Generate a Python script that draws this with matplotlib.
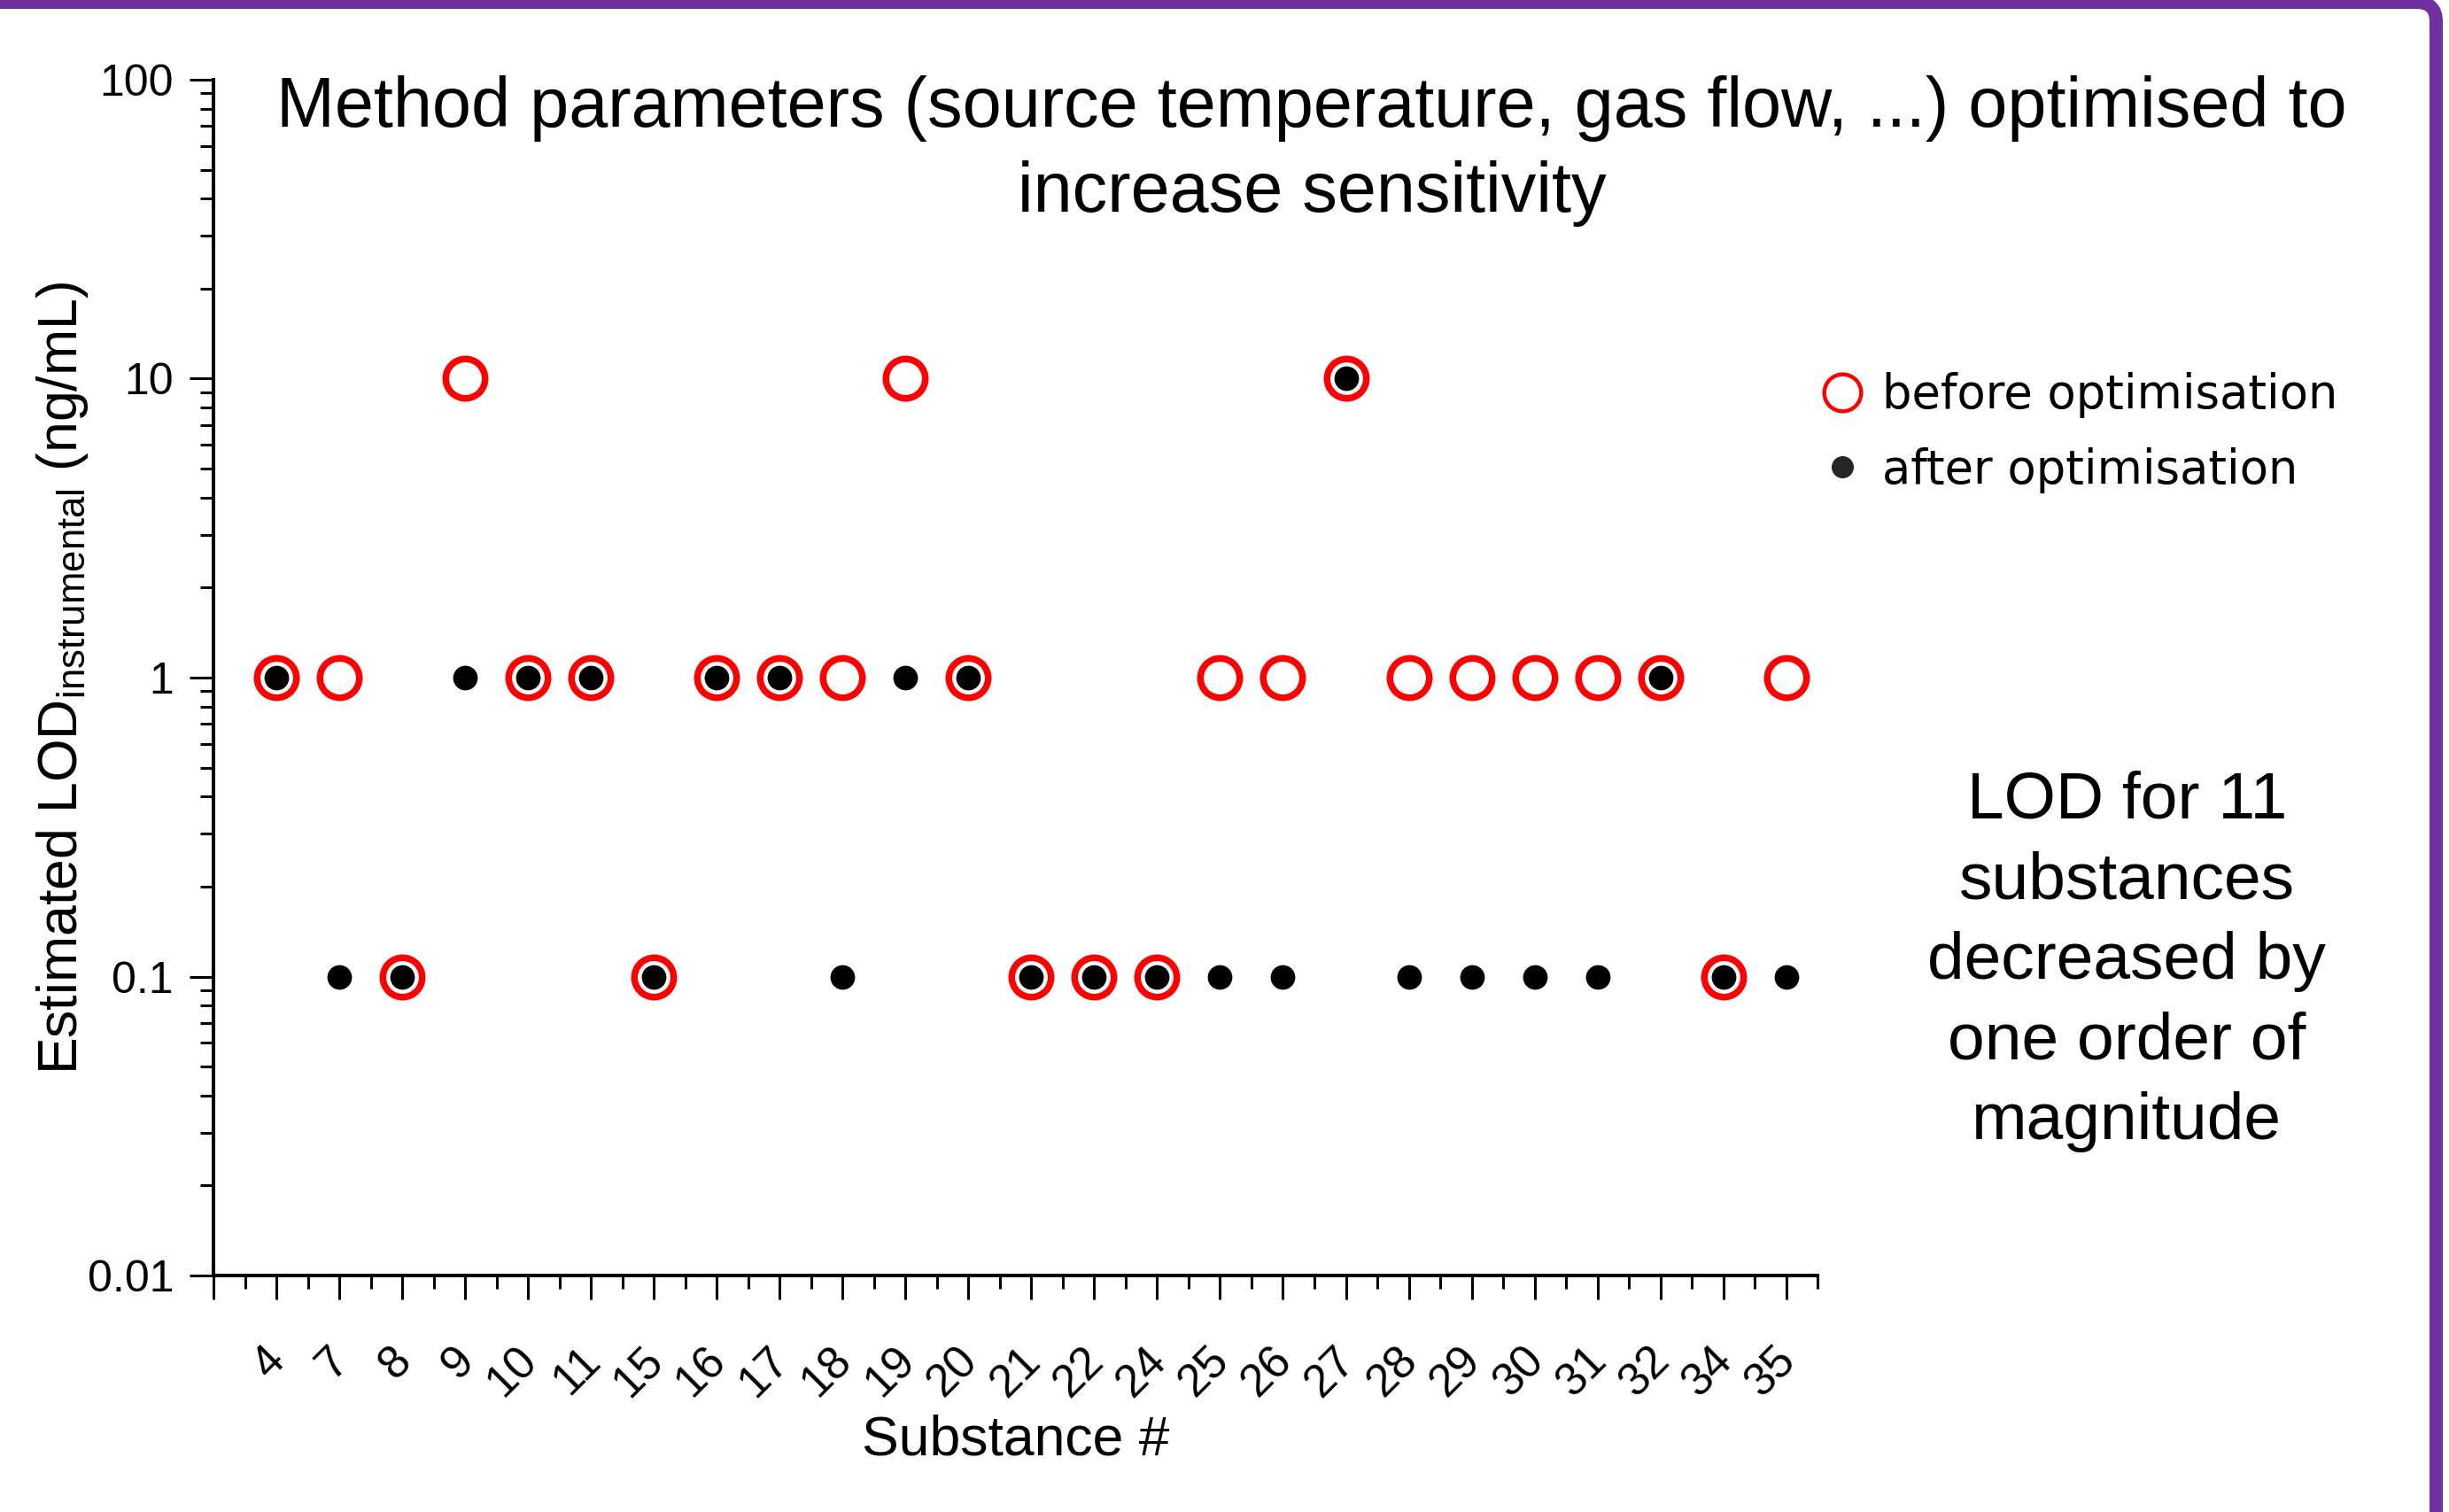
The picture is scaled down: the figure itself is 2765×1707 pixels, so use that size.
#!/usr/bin/env python3

import numpy as np
import matplotlib
matplotlib.use("Agg")
import matplotlib.pyplot as plt
from matplotlib.lines import Line2D
from matplotlib.patches import FancyBboxPatch
from matplotlib.ticker import FixedLocator, LogLocator, NullFormatter
import matplotlib.transforms as mtransforms

# substance numbers on the x axis
substances = ["4", "7", "8", "9", "10", "11", "15", "16", "17", "18", "19", "20", "21",
              "22", "24", "25", "26", "27", "28", "29", "30", "31", "32", "34", "35"]

# estimated LOD (ng/mL)
lod_before = [1, 1, 0.1, 10, 1, 1, 0.1, 1, 1, 1, 10, 1, 0.1,
              0.1, 0.1, 1, 1, 10, 1, 1, 1, 1, 1, 0.1, 1]
lod_after = [1, 0.1, 0.1, 1, 1, 1, 0.1, 1, 1, 0.1, 1, 1, 0.1,
             0.1, 0.1, 0.1, 0.1, 10, 0.1, 0.1, 0.1, 0.1, 1, 0.1, 0.1]

ytick_values = [0.01, 0.1, 1, 10, 100]
ytick_labels = ["0.01", "0.1", "1", "10", "100"]

title = "Method parameters (source temperature, gas flow, ...) optimised to\nincrease sensitivity"
note = "LOD for 11\nsubstances\ndecreased by\none order of\nmagnitude"
legend_labels = ["before optimisation", "after optimisation"]

PURPLE = "#7030A0"


def draw_chart():
    plt.rcParams["font.family"] = ["Liberation Sans", "DejaVu Sans"]
    plt.rcParams["mathtext.default"] = "regular"

    W, H = 27.65, 17.07
    fig = plt.figure(figsize=(W, H), dpi=100)
    ax = fig.add_axes([0.0872, 0.1564, 0.655, 0.7909])

    x = np.arange(len(substances))
    ax.plot(x, lod_before, linestyle="none", marker="o", markersize=32,
            markerfacecolor="none", markeredgecolor="#ff0000", markeredgewidth=5.4,
            clip_on=False, zorder=3)
    ax.plot(x, lod_after, linestyle="none", marker="o", markersize=20,
            markerfacecolor="black", markeredgecolor="none",
            clip_on=False, zorder=4)

    ax.set_yscale("log")
    ax.set_ylim(0.01, 100)
    ax.set_xlim(-1, len(substances) - 0.5)

    # axes: only left and bottom, ticks outward
    for side in ["top", "right"]:
        ax.spines[side].set_visible(False)
    for side in ["left", "bottom"]:
        ax.spines[side].set_linewidth(2.9)

    ax.set_yticks(ytick_values)
    ax.set_yticklabels(ytick_labels)
    ax.yaxis.set_minor_locator(LogLocator(base=10, subs=np.arange(2, 10)))
    ax.yaxis.set_minor_formatter(NullFormatter())

    ax.xaxis.set_major_locator(FixedLocator(np.arange(-1, len(substances))))
    ax.set_xticklabels([""] + substances, rotation=45, ha="right")
    ax.xaxis.set_minor_locator(FixedLocator(np.arange(-0.5, len(substances), 1.0)))

    ax.tick_params(which="major", direction="out", length=19.4, width=2.2)
    ax.tick_params(which="minor", direction="out", length=10.8, width=2.2)
    ax.tick_params(axis="y", which="major", labelsize=36, pad=13)
    ax.tick_params(axis="x", which="major", labelsize=37, pad=32)

    shift = mtransforms.ScaledTranslation(0.2, 0, fig.dpi_scale_trans)
    for lab in ax.get_xticklabels():
        lab.set_transform(lab.get_transform() + shift)

    ax.set_xlabel("Substance #", fontsize=45, va="center")
    ax.xaxis.set_label_coords(0.5, -0.138)
    ax.set_ylabel(r"Estimated LOD$_{instrumental}$ (ng/mL)", fontsize=45, va="center")
    ax.yaxis.set_label_coords(-0.094, 0.5)

    fig.text(0.5356, 0.9, title, ha="center", va="center", fontsize=57,
             linespacing=1.37)
    fig.text(0.8684, 0.364, note, ha="center", va="center", fontsize=54,
             linespacing=1.4)

    handles = [
        Line2D([], [], linestyle="none", marker="o", markersize=30,
               markerfacecolor="none", markeredgecolor="#ff0000", markeredgewidth=3.2),
        Line2D([], [], linestyle="none", marker="o", markersize=18,
               markerfacecolor="#262626", markeredgecolor="none"),
    ]
    fig.legend(handles, legend_labels, loc="center left",
               bbox_to_anchor=(0.7447, 0.7138), frameon=False,
               prop={"family": "DejaVu Sans", "size": 38},
               handlelength=0.8, handletextpad=0.44, labelspacing=0.62,
               borderpad=0, borderaxespad=0)

    # purple rounded frame, cut off at left and bottom
    frame = FancyBboxPatch((-1.0, -1.0), W - 0.145 + 1.0, H - 0.025 + 1.0,
                           boxstyle="round,pad=0,rounding_size=0.22",
                           transform=fig.dpi_scale_trans, facecolor="none",
                           edgecolor=PURPLE, linewidth=10.8, clip_on=False)
    fig.add_artist(frame)

    fig.savefig("out.png", dpi=100)


def main():
    draw_chart()


if __name__ == "__main__":
    main()
